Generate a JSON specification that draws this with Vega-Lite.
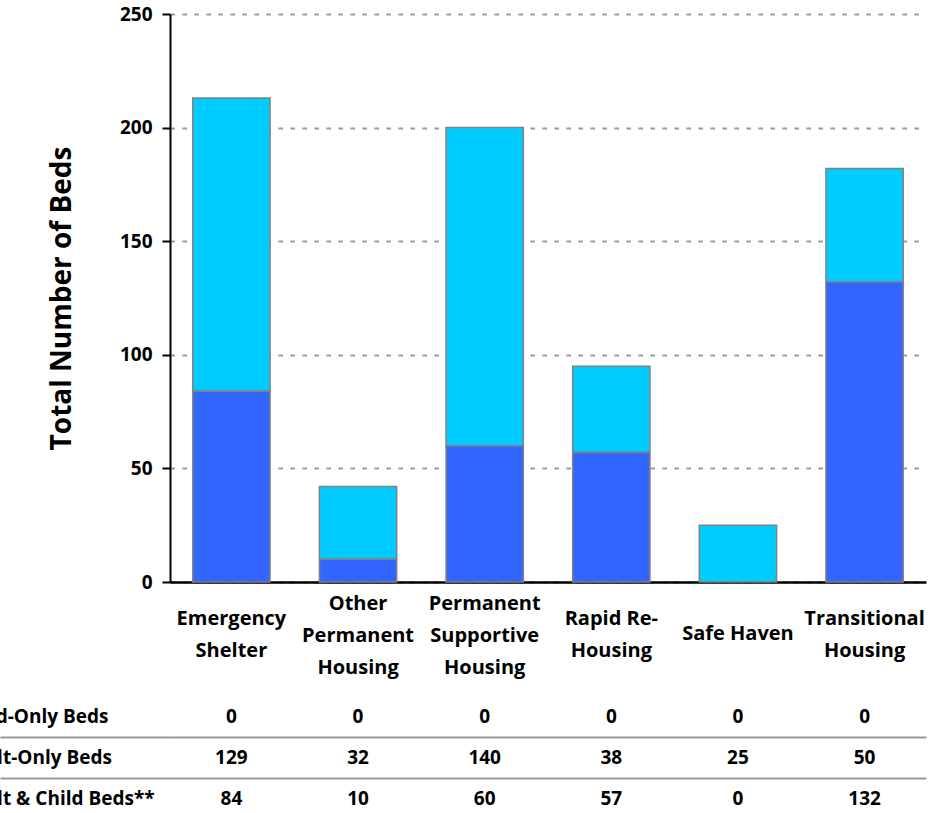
{
  "$schema": "https://vega.github.io/schema/vega-lite/v6.json",
  "padding": {"left": -41, "top": 5, "right": 5, "bottom": 0},
  "config": {"font": "Open Sans", "view": {"stroke": null}, "concat": {"spacing": 10}},
  "datasets": {
    "beds": [
      {"category": "Emergency Shelter", "series": "Child-Only Beds", "value": 0},
      {"category": "Emergency Shelter", "series": "Adult-Only Beds", "value": 129},
      {"category": "Emergency Shelter", "series": "Adult & Child Beds**", "value": 84},
      {"category": "Other Permanent Housing", "series": "Child-Only Beds", "value": 0},
      {"category": "Other Permanent Housing", "series": "Adult-Only Beds", "value": 32},
      {"category": "Other Permanent Housing", "series": "Adult & Child Beds**", "value": 10},
      {"category": "Permanent Supportive Housing", "series": "Child-Only Beds", "value": 0},
      {"category": "Permanent Supportive Housing", "series": "Adult-Only Beds", "value": 140},
      {"category": "Permanent Supportive Housing", "series": "Adult & Child Beds**", "value": 60},
      {"category": "Rapid Re-Housing", "series": "Child-Only Beds", "value": 0},
      {"category": "Rapid Re-Housing", "series": "Adult-Only Beds", "value": 38},
      {"category": "Rapid Re-Housing", "series": "Adult & Child Beds**", "value": 57},
      {"category": "Safe Haven", "series": "Child-Only Beds", "value": 0},
      {"category": "Safe Haven", "series": "Adult-Only Beds", "value": 25},
      {"category": "Safe Haven", "series": "Adult & Child Beds**", "value": 0},
      {"category": "Transitional Housing", "series": "Child-Only Beds", "value": 0},
      {"category": "Transitional Housing", "series": "Adult-Only Beds", "value": 50},
      {"category": "Transitional Housing", "series": "Adult & Child Beds**", "value": 132}
    ]
  },
  "resolve": {"scale": {"x": "independent", "y": "independent"}},
  "vconcat": [
    {
      "width": 756,
      "height": 568,
      "data": {"name": "beds"},
      "transform": [{"filter": "datum.series !== 'Child-Only Beds' && datum.value > 0"}],
      "mark": {"type": "bar", "stroke": "#808080", "strokeWidth": 1.5},
      "encoding": {
        "x": {
          "field": "category", "type": "nominal", "sort": null,
          "scale": {"type": "band", "paddingInner": 0.39, "paddingOuter": 0.18},
          "axis": {
            "title": null, "ticks": false, "domainColor": "black", "domainWidth": 2.5,
            "labelAngle": 0, "labelFontSize": 20, "labelFontWeight": "bold", "labelColor": "black",
            "labelLineHeight": 32, "labelBaseline": "middle", "labelOverlap": false, "labelLimit": 300,
            "labelPadding": {
              "condition": [
                {"test": "datum.label === 'Other Permanent Housing' || datum.label === 'Permanent Supportive Housing'", "value": 21},
                {"test": "datum.label === 'Safe Haven'", "value": 51}
              ],
              "value": 36
            },
            "labelExpr": "datum.label === 'Safe Haven' ? 'Safe Haven' : datum.label === 'Rapid Re-Housing' ? ['Rapid Re-', 'Housing'] : split(datum.label, ' ')"
          }
        },
        "y": {
          "field": "value", "type": "quantitative", "stack": "zero",
          "scale": {"domain": [0, 250]},
          "axis": {
            "title": "Total Number of Beds", "titleFontSize": 28, "titleFontWeight": "bold", "titleColor": "black", "titlePadding": 43,
            "values": [0, 50, 100, 150, 200, 250],
            "domainColor": "black", "domainWidth": 2, "tickColor": "black", "tickWidth": 2, "tickSize": 8,
            "labelFontSize": 19, "labelFontWeight": "bold", "labelColor": "black", "labelPadding": 10,
            "grid": true, "gridColor": "#999999", "gridWidth": 2, "gridDash": [4.5, 7.5]
          }
        },
        "color": {
          "field": "series", "type": "nominal",
          "scale": {"domain": ["Adult & Child Beds**", "Adult-Only Beds"], "range": ["#3366FF", "#00CCFF"]},
          "legend": null
        },
        "order": {"field": "series", "sort": "ascending"}
      }
    },
    {
      "width": 756,
      "height": 123,
      "data": {"name": "beds"},
      "mark": {"type": "text", "fontSize": 19, "fontWeight": "bold", "color": "black", "baseline": "middle"},
      "encoding": {
        "x": {
          "field": "category", "type": "nominal", "sort": null,
          "scale": {"type": "band", "paddingInner": 0.39, "paddingOuter": 0.18},
          "axis": null
        },
        "y": {
          "field": "series", "type": "nominal",
          "sort": ["Child-Only Beds", "Adult-Only Beds", "Adult & Child Beds**"],
          "scale": {"type": "band", "paddingInner": 0, "paddingOuter": 0},
          "axis": {
            "title": null, "domain": false,
            "labelAlign": "left", "labelPadding": 41, "labelFontSize": 19, "labelFontWeight": "bold",
            "labelColor": "black", "labelBaseline": "middle", "labelLimit": 300,
            "tickSize": 170, "tickColor": "#999999", "tickWidth": 2, "tickBand": "extent",
            "tickOpacity": {"condition": {"test": "datum.extra", "value": 0}, "value": 1},
            "grid": true, "gridColor": "#999999", "gridWidth": 2,
            "gridOpacity": {"condition": {"test": "datum.extra", "value": 0}, "value": 1}
          }
        },
        "text": {"field": "value", "type": "quantitative"}
      }
    }
  ]
}
